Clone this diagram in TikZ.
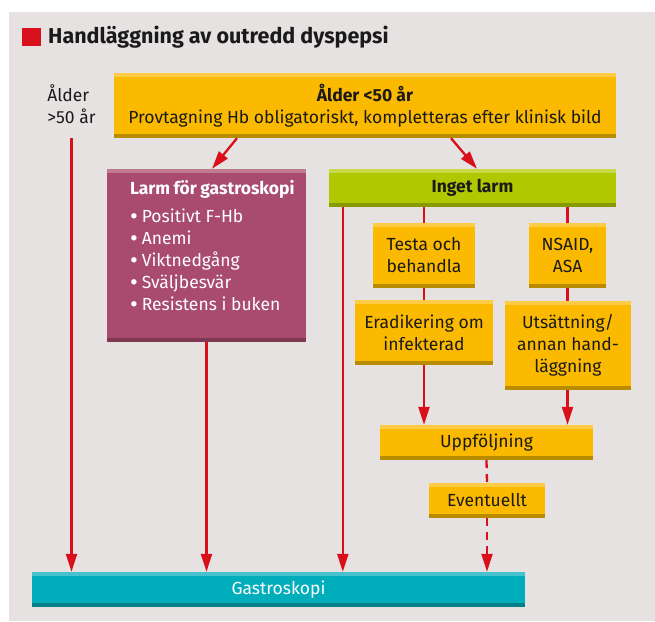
\documentclass[tikz,border=0pt]{standalone}
\usepackage{fontspec}
\setmainfont{Fira Sans}
\usepackage{xcolor}
\usepackage{tikz}
\usetikzlibrary{arrows.meta}

\definecolor{panel}{HTML}{E7E2E2}
\definecolor{ink}{HTML}{1A1A1A}
\definecolor{alarm}{HTML}{D7101B}
\definecolor{amber}{HTML}{FBBA00}
\definecolor{amberlt}{HTML}{FDCB45}
\definecolor{amberdk}{HTML}{B98B00}
\definecolor{plum}{HTML}{A84B6F}
\definecolor{plumlt}{HTML}{C27A93}
\definecolor{plumdk}{HTML}{7E3852}
\definecolor{lime}{HTML}{AFC800}
\definecolor{limelt}{HTML}{C6DA48}
\definecolor{limedk}{HTML}{879A00}
\definecolor{teal}{HTML}{00ADBB}
\definecolor{teallt}{HTML}{45C2CC}
\definecolor{tealdk}{HTML}{00808A}

\newcommand{\bigdot}{{\fontsize{24}{22}\selectfont\raisebox{-1.5pt}{\textbullet}}\hspace{4pt}}

\begin{document}
\begin{tikzpicture}[
    x=1pt, y=-1pt,
    every node/.style={font=\fontsize{17.5}{22}\selectfont, text=ink},
    box/.style n args={3}{rectangle, fill=#1, inner sep=0pt, align=center,
        path picture={
            \fill[#2] (path picture bounding box.north west) rectangle ([yshift=-4pt]path picture bounding box.north east);
            \fill[#3] (path picture bounding box.south west) rectangle ([yshift=4pt]path picture bounding box.south east);
        }},
    ambox/.style={box={amber}{amberlt}{amberdk}},
    larmbox/.style={box={plum}{plumlt}{plumdk}, text=white},
    okbox/.style={box={lime}{limelt}{limedk}, font=\fontsize{17.5}{22}\selectfont\bfseries},
    scopebox/.style={box={teal}{teallt}{tealdk}, text=white},
    link/.style={draw=alarm, line width=2.3pt},
    flow/.style={link, -{Triangle[length=18pt, width=11pt]}},
    maybe/.style={flow, dash pattern=on 8pt off 6pt}
]
\useasboundingbox (0,0) rectangle (655,621);
\fill[panel] (9,12) rectangle (655,621);

\node[fill=alarm, minimum width=19pt, minimum height=18pt, inner sep=0pt] (mark) at (31.5,37) {};
\node[anchor=west, inner sep=0pt, font=\fontsize{21.5}{25}\selectfont\bfseries] (title) at (48,37) {Handläggning av outredd dyspepsi};

\node[ambox, minimum width=502pt, minimum height=65pt] (young) at (365,105.5)
    {\textbf{Ålder <50 år}\\Provtagning Hb obligatoriskt, kompletteras efter klinisk bild};
\node[align=left, inner sep=0pt] (old) at (71.5,104) {Ålder\\>50 år};

\node[larmbox, minimum width=199pt, minimum height=173pt] (larm) at (206.5,255.5)
    {\begin{minipage}[t][150pt][t]{176pt}
     \leftskip=11.5pt
     \textbf{Larm för gastroskopi}\\[6pt]
     \bigdot Positivt F-Hb\\
     \bigdot Anemi\\
     \bigdot Viktnedgång\\
     \bigdot Sväljbesvär\\
     \bigdot Resistens i buken
     \end{minipage}};
\node[okbox, minimum width=287pt, minimum height=38pt] (inget) at (472.5,188) {Inget larm};

\node[ambox, minimum width=102pt, minimum height=65pt] (testa) at (424,255.5) {Testa och\\behandla};
\node[ambox, minimum width=77pt, minimum height=65pt] (nsaid) at (567.5,255.5) {NSAID,\\ASA};
\node[ambox, minimum width=138pt, minimum height=65pt] (erad) at (424,332.5) {Eradikering om\\infekterad};
\node[ambox, minimum width=126pt, minimum height=89pt] (uts) at (568,345.5) {Utsättning/\\annan hand-\\läggning};
\node[ambox, minimum width=213pt, minimum height=35pt] (upp) at (486.5,442.5) {Uppföljning};
\node[ambox, minimum width=116pt, minimum height=35pt] (event) at (487,500.5) {Eventuellt};
\node[scopebox, minimum width=493pt, minimum height=35pt] (gastro) at (278.5,589.5) {Gastroskopi};

\draw[flow] ([xshift=-128pt]young.south) -- ([xshift=5.5pt]larm.north);
\draw[flow] ([xshift=86pt]young.south) -- ([xshift=4.5pt]inget.north);

\draw[flow] (old |- young.south) -- (old |- gastro.north);
\draw[flow] (larm.south) -- (larm.south |- gastro.north);
\draw[flow] ([xshift=14pt]inget.south west) -- ([xshift=14pt]inget.south west |- gastro.north);

\draw[link] (testa |- inget.south) -- (testa.north);
\draw[link] (testa.south) -- (erad.north);
\draw[flow] (erad.south) -- (erad.south |- upp.north);
\draw[link] (nsaid |- inget.south) -- (nsaid.north);
\draw[link] (nsaid.south) -- (uts.north -| nsaid);
\draw[flow] (uts.south -| nsaid) -- (nsaid |- upp.north);

\draw[maybe, -] (upp.south) -- (event.north);
\draw[maybe] (event.south) -- (event.south |- gastro.north);

\end{tikzpicture}
\end{document}
